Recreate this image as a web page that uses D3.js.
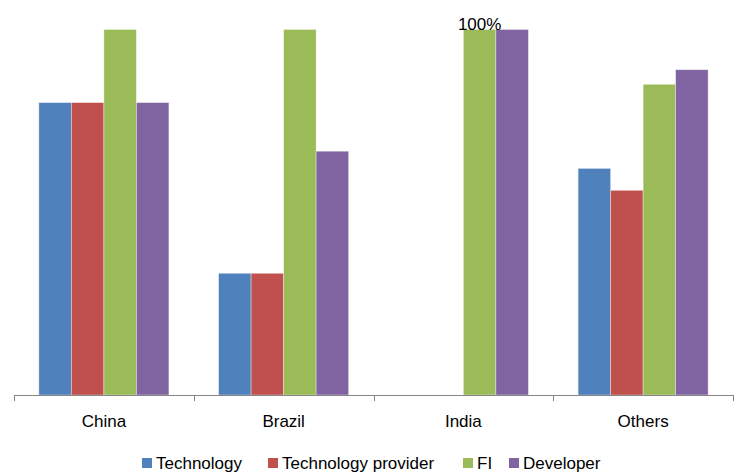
<!DOCTYPE html>
<html>
<head>
<meta charset="utf-8">
<script src="https://cdn.jsdelivr.net/npm/d3@7"></script>
<style>
  html, body { margin: 0; padding: 0; background: #fff; }
  svg { display: block; }
  text { font-family: "Liberation Sans", Arial, sans-serif; fill: #000; }
</style>
</head>
<body>
<svg id="chart" width="736" height="472"></svg>
<script>
// Share of projects per region, by participant type
const categories = ["China", "Brazil", "India", "Others"];
const seriesNames = ["Technology", "Technology provider", "FI", "Developer"];
const seriesColors = ["#4F81BD", "#C0504D", "#9BBB59", "#8064A2"];
const technology = [0.80, 0.333, 0, 0.62];
const technologyProvider = [0.80, 0.333, 0, 0.56];
const fi = [1.00, 1.00, 1.00, 0.85];
const developer = [0.80, 0.667, 1.00, 0.89];
const valueLabels = [{ category: "India", series: "FI", text: "100%" }];

const seriesValues = [technology, technologyProvider, fi, developer];

const svg = d3.select("#chart");

const x0 = d3.scaleBand().domain(categories).range([14, 733]).paddingInner(0).paddingOuter(0);
const x1 = d3.scaleBand().domain(seriesNames).range([0, x0.bandwidth()]).paddingInner(0).paddingOuter(0.765);
const y = d3.scaleLinear().domain([0, 1]).range([395, 29.5]);

const rows = categories.map((c, i) => ({
  category: c,
  values: seriesNames.map((s, j) => ({ series: s, value: seriesValues[j][i], color: seriesColors[j] }))
}));

const groups = svg.append("g").selectAll("g")
  .data(rows).join("g")
  .attr("transform", d => `translate(${x0(d.category)},0)`);

groups.selectAll("rect")
  .data(d => d.values.filter(v => v.value > 0))
  .join("rect")
  .attr("x", d => x1(d.series))
  .attr("width", x1.bandwidth())
  .attr("y", d => y(d.value))
  .attr("height", d => y(0) - y(d.value))
  .attr("fill", d => d.color)
  .attr("stroke", "rgba(255,255,255,0.45)")
  .attr("stroke-width", 0.8);

// Category axis along the baseline
const axis = d3.axisBottom(x0).tickSize(0).tickPadding(20);
const ax = svg.append("g").attr("transform", `translate(0,${y(0)})`).call(axis);
ax.select(".domain").attr("stroke", "#868686").attr("stroke-width", 1);
ax.selectAll("text").attr("font-size", 17).attr("fill", "#000");
// Boundary ticks between categories
const bounds = categories.map(c => x0(c)).concat([x0.range()[1]]);
ax.selectAll(".bound").data(bounds).join("line")
  .attr("class", "bound")
  .attr("x1", d => Math.round(d) + 0.5).attr("x2", d => Math.round(d) + 0.5)
  .attr("y1", 0).attr("y2", 6)
  .attr("stroke", "#868686");
ax.select(".domain").attr("d", `M${x0.range()[0] + 0.5},0.5H${x0.range()[1] + 0.5}`);

// Data labels
svg.append("g").selectAll("text")
  .data(valueLabels).join("text")
  .attr("x", d => x0(d.category) + x1(d.series) + x1.bandwidth() / 2)
  .attr("y", d => y(fi[categories.indexOf(d.category)]) + 0.5)
  .attr("text-anchor", "middle")
  .attr("font-size", 17)
  .text(d => d.text);

// Legend
const legendItems = [
  { x: 142, tx: 156 },
  { x: 268, tx: 282 },
  { x: 463, tx: 477 },
  { x: 509, tx: 523 }
];
const legend = svg.append("g").selectAll("g")
  .data(seriesNames).join("g");
legend.append("rect")
  .attr("x", (d, i) => legendItems[i].x)
  .attr("y", 458)
  .attr("width", 10).attr("height", 10)
  .attr("fill", (d, i) => seriesColors[i]);
legend.append("text")
  .attr("x", (d, i) => legendItems[i].tx)
  .attr("y", 469)
  .attr("font-size", 17)
  .text(d => d);
</script>
</body>
</html>
